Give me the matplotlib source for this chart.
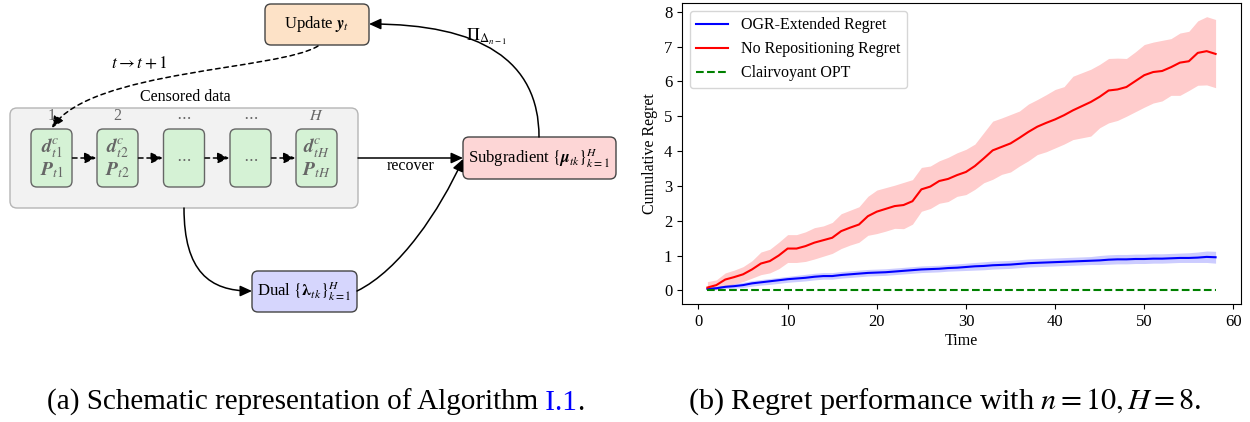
import matplotlib
matplotlib.use('Agg')
import matplotlib.pyplot as plt
from matplotlib.patches import FancyBboxPatch, FancyArrowPatch
from matplotlib.path import Path

plt.rcParams['font.family'] = 'serif'
plt.rcParams['font.serif'] = ['Liberation Serif', 'DejaVu Serif']
plt.rcParams['mathtext.fontset'] = 'stix'

# --- data for panel (b) ---
tempo = list(range(1, 59))

ogr_media = [0.04, 0.06, 0.10, 0.12, 0.15, 0.20, 0.23, 0.26, 0.29, 0.32,
             0.34, 0.36, 0.39, 0.41, 0.41, 0.44, 0.46, 0.48, 0.50, 0.51,
             0.52, 0.54, 0.56, 0.58, 0.60, 0.61, 0.62, 0.64, 0.65, 0.67,
             0.69, 0.70, 0.72, 0.73, 0.74, 0.76, 0.78, 0.79, 0.80, 0.81,
             0.82, 0.83, 0.84, 0.85, 0.86, 0.88, 0.89, 0.89, 0.90, 0.90,
             0.91, 0.91, 0.92, 0.93, 0.93, 0.94, 0.96, 0.95]
ogr_sup = [0.08, 0.11, 0.15, 0.19, 0.23, 0.28, 0.31, 0.34, 0.37, 0.40,
           0.43, 0.46, 0.49, 0.51, 0.51, 0.54, 0.56, 0.58, 0.60, 0.61,
           0.62, 0.64, 0.66, 0.68, 0.70, 0.71, 0.72, 0.74, 0.76, 0.78,
           0.80, 0.82, 0.84, 0.85, 0.86, 0.88, 0.90, 0.91, 0.92, 0.93,
           0.94, 0.95, 0.96, 0.97, 1.00, 1.02, 1.03, 1.03, 1.04, 1.04,
           1.05, 1.05, 1.06, 1.07, 1.08, 1.10, 1.13, 1.12]
ogr_inf = [0.00, 0.02, 0.05, 0.06, 0.08, 0.12, 0.15, 0.17, 0.20, 0.23,
           0.25, 0.27, 0.30, 0.32, 0.32, 0.35, 0.37, 0.39, 0.41, 0.42,
           0.43, 0.45, 0.47, 0.49, 0.51, 0.52, 0.53, 0.55, 0.56, 0.57,
           0.58, 0.59, 0.61, 0.62, 0.63, 0.65, 0.67, 0.68, 0.69, 0.70,
           0.71, 0.72, 0.73, 0.74, 0.74, 0.75, 0.76, 0.76, 0.77, 0.77,
           0.78, 0.78, 0.79, 0.80, 0.80, 0.80, 0.80, 0.78]

norep_media = [0.08, 0.15, 0.31, 0.38, 0.46, 0.60, 0.77, 0.84, 1.00, 1.20,
               1.20, 1.27, 1.37, 1.44, 1.51, 1.70, 1.80, 1.89, 2.13, 2.26,
               2.34, 2.42, 2.45, 2.56, 2.90, 2.98, 3.14, 3.20, 3.31, 3.40,
               3.57, 3.79, 4.02, 4.12, 4.22, 4.38, 4.55, 4.70, 4.81, 4.91,
               5.03, 5.17, 5.29, 5.41, 5.56, 5.74, 5.77, 5.84, 6.01, 6.18,
               6.27, 6.30, 6.41, 6.54, 6.58, 6.82, 6.87, 6.79]
norep_sup = [0.25, 0.30, 0.50, 0.58, 0.68, 0.85, 1.10, 1.18, 1.38, 1.60,
             1.60, 1.68, 1.80, 1.85, 1.95, 2.20, 2.30, 2.40, 2.70, 2.88,
             2.95, 3.02, 3.10, 3.18, 3.53, 3.57, 3.72, 3.82, 3.95, 4.05,
             4.20, 4.53, 4.86, 4.95, 5.05, 5.15, 5.35, 5.48, 5.62, 5.77,
             5.85, 6.15, 6.25, 6.35, 6.49, 6.66, 6.67, 6.66, 6.85, 7.06,
             7.13, 7.18, 7.23, 7.39, 7.44, 7.74, 7.86, 7.78]
norep_inf = [0.00, 0.03, 0.10, 0.18, 0.25, 0.35, 0.45, 0.50, 0.62, 0.80,
             0.80, 0.83, 0.90, 0.98, 1.06, 1.20, 1.30, 1.38, 1.58, 1.63,
             1.70, 1.78, 1.77, 1.90, 2.27, 2.35, 2.50, 2.55, 2.70, 2.75,
             2.90, 3.09, 3.19, 3.33, 3.40, 3.57, 3.72, 3.90, 3.98, 4.09,
             4.20, 4.33, 4.38, 4.43, 4.67, 4.81, 4.88, 5.00, 5.13, 5.26,
             5.38, 5.44, 5.60, 5.60, 5.74, 5.89, 5.90, 5.82]

otimo = [0.0] * len(tempo)

# --- figura ---
fig = plt.figure(figsize=(12.5, 4.22), dpi=100)

# painel (a): esquema desenhado em coordenadas de pixel
esq = fig.add_axes([0, 0, 1, 1])
esq.set_xlim(0, 1250)
esq.set_ylim(422, 0)
esq.axis('off')

PONTA = '-|>,head_length=0.55,head_width=0.25'


def caixa(x0, y0, x1, y1, cor, borda='#444444', lw=1.0, r=6):
    esq.add_patch(FancyBboxPatch((x0, y0), x1 - x0, y1 - y0,
                                 boxstyle='round,pad=0,rounding_size=%d' % r,
                                 facecolor=cor, edgecolor=borda, linewidth=lw))


def seta(pontos, estilo='-'):
    codes = [Path.MOVETO] + [Path.CURVE4] * (len(pontos) - 1)
    esq.add_patch(FancyArrowPatch(path=Path(pontos, codes), arrowstyle=PONTA,
                                  mutation_scale=13, color='black', lw=1.1,
                                  linestyle=estilo))


# caixa cinza dos dados censurados
caixa(10, 108, 358, 208, '#f2f2f2', borda='#b5b5b5', r=7)
esq.text(185, 97, 'Censored data', ha='center', va='center', fontsize=11.5)

centros = [51.5, 117.5, 184, 250.5, 316.5]
rotulos = ['1', '2', r'$\cdots$', r'$\cdots$', '$H$']
cima = [r'$\mathbfit{d}^{c}_{t1}$', r'$\mathbfit{d}^{c}_{t2}$', None, None, r'$\mathbfit{d}^{c}_{tH}$']
baixo = [r'$\mathbfit{P}_{t1}$', r'$\mathbfit{P}_{t2}$', None, None, r'$\mathbfit{P}_{tH}$']
for i, cx in enumerate(centros):
    caixa(cx - 20.5, 129, cx + 20.5, 187, '#d5f2d5', borda='#666666', r=6)
    esq.text(cx, 116, rotulos[i], ha='center', va='center', fontsize=11.5, color='#666666')
    if cima[i] is None:
        esq.text(cx, 158, r'$\cdots$', ha='center', va='center', fontsize=11.5, color='#666666')
    else:
        esq.text(cx, 148, cima[i], ha='center', va='center', fontsize=14, color='#666666')
        esq.text(cx, 170, baixo[i], ha='center', va='center', fontsize=14, color='#666666')
    if i < len(centros) - 1:
        esq.add_patch(FancyArrowPatch((cx + 21, 158), (centros[i + 1] - 21, 158),
                                      arrowstyle=PONTA, mutation_scale=13, color='black',
                                      lw=1.1, linestyle=(0, (3, 2.5)), shrinkA=0, shrinkB=0))

# outras caixas
caixa(265, 4, 369, 45, '#fde2c7')
esq.text(317, 24, r'Update $\mathbfit{y}_t$', ha='center', va='center', fontsize=12)
caixa(463, 137, 616, 179, '#fdd6d6')
esq.text(539.5, 158, r'Subgradient $\{\mathbfit{\mu}_{tk}\}_{k=1}^{H}$', ha='center', va='center', fontsize=12)
caixa(252, 271, 357, 312, '#d6d6fd')
esq.text(304.5, 291, r'Dual $\{\mathbf{\lambda}_{tk}\}_{k=1}^{H}$', ha='center', va='center', fontsize=12)

# setas
esq.add_patch(FancyArrowPatch((358, 158), (463, 158), arrowstyle=PONTA,
                              mutation_scale=13, color='black', lw=1.1, shrinkA=0, shrinkB=0))
esq.text(411, 166, 'recover', ha='center', va='center', fontsize=11.5)
seta([(539, 137), (539, 60), (480, 24), (369, 24)])
esq.text(487, 37, r'$\Pi_{\Delta_{n-1}}$', ha='center', va='center', fontsize=13)
seta([(318, 46), (280, 70), (90, 70), (52, 128)], estilo=(0, (3, 2.5)))
esq.text(139, 64, r'$t \rightarrow t+1$', ha='center', va='center', fontsize=12.5)
seta([(184, 208), (184, 272), (210, 291), (252, 291)])
seta([(357, 291), (400, 270), (440, 210), (463, 159)])

# legendas das figuras
t1 = esq.text(47, 402, '(a) Schematic representation of Algorithm', ha='left', va='center', fontsize=21)
t2 = esq.annotate(' I.1', xy=(1, 0), xycoords=t1, va='bottom', ha='left', fontsize=21, color='blue')
esq.annotate('.', xy=(1, 0), xycoords=t2, va='bottom', ha='left', fontsize=21)
esq.text(945, 402, r'(b) Regret performance with $n = 10, H = 8$.', ha='center', va='center', fontsize=21.8)

# painel (b): grafico
ax = fig.add_axes([0.5456, 0.2796, 0.4472, 0.7133])
ax.plot(tempo, ogr_media, color='blue', label='OGR-Extended Regret')
ax.fill_between(tempo, ogr_inf, ogr_sup, color='blue', alpha=0.2, linewidth=0)
ax.plot(tempo, norep_media, color='red', label='No Repositioning Regret')
ax.fill_between(tempo, norep_inf, norep_sup, color='red', alpha=0.2, linewidth=0)
ax.plot(tempo, otimo, color='green', linestyle='--', label='Clairvoyant OPT')
ax.set_xlabel('Time', fontsize=11.5, labelpad=2)
ax.set_ylabel('Cumulative Regret', fontsize=11.5)
ax.tick_params(labelsize=12)
ax.set_xticks([0, 10, 20, 30, 40, 50, 60])
ax.legend(loc='upper left', fontsize=11.5)

fig.savefig('out.png', dpi=100)
